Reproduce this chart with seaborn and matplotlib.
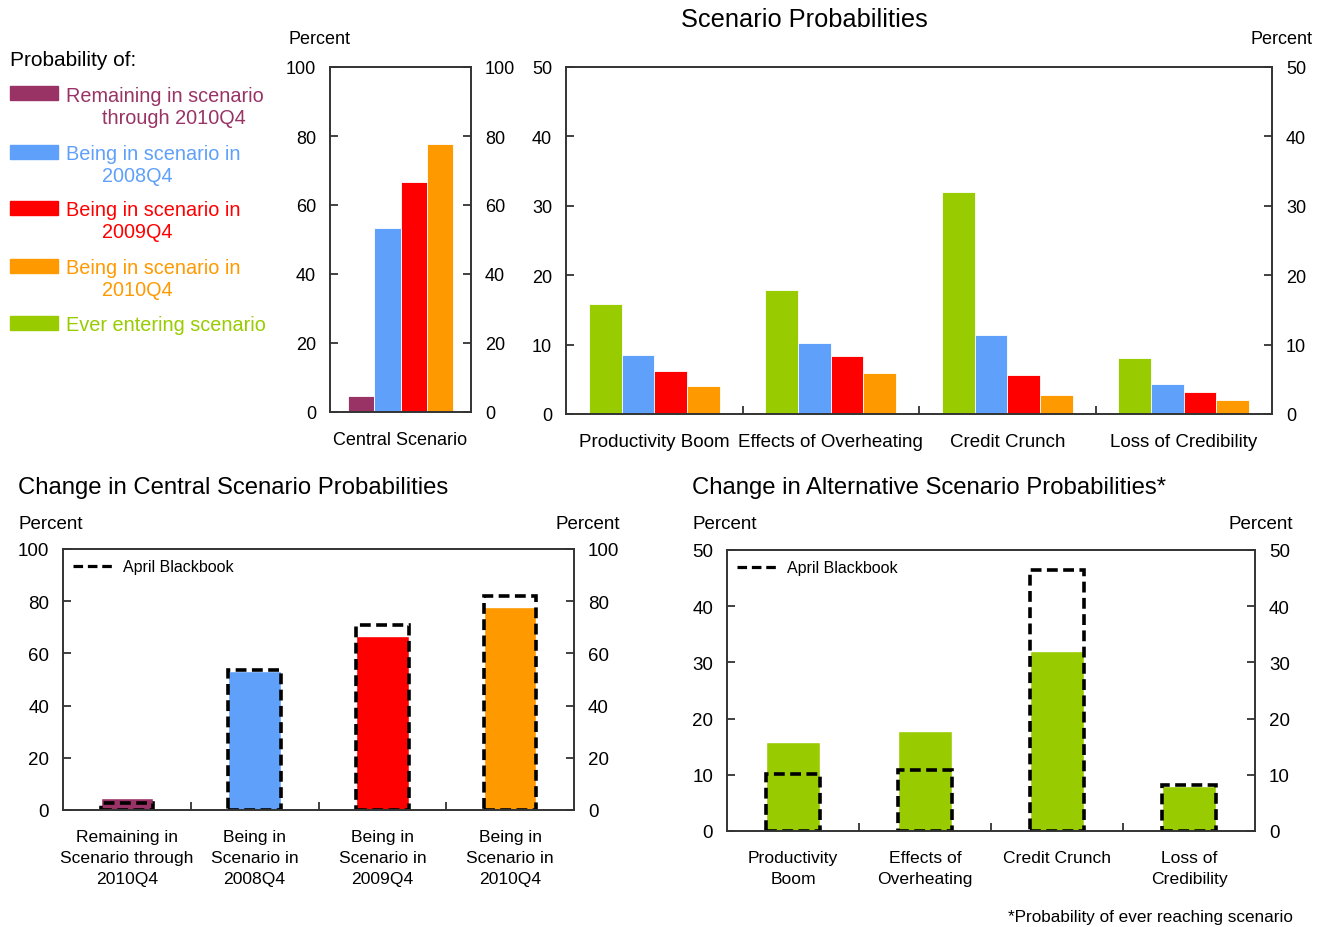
import matplotlib
matplotlib.use("Agg")
import matplotlib.pyplot as plt
from matplotlib import font_manager
from matplotlib.patches import Rectangle
from matplotlib.lines import Line2D
import seaborn as sns
import pandas as pd

# ---------------- data ----------------
central_series = ["Remaining in scenario through 2010Q4", "Being in scenario in 2008Q4",
                  "Being in scenario in 2009Q4", "Being in scenario in 2010Q4"]
central_values = [4.7, 53.2, 66.8, 77.8]
central_april = [2.7, 53.5, 71.0, 82.0]
central_cat_labels = ["Remaining in\nScenario through\n2010Q4", "Being in\nScenario in\n2008Q4",
                      "Being in\nScenario in\n2009Q4", "Being in\nScenario in\n2010Q4"]

alt_categories = ["Productivity Boom", "Effects of Overheating", "Credit Crunch", "Loss of Credibility"]
alt_cat_labels = ["Productivity\nBoom", "Effects of\nOverheating", "Credit Crunch", "Loss of\nCredibility"]
alt_series = ["Ever entering scenario", "Being in scenario in 2008Q4",
              "Being in scenario in 2009Q4", "Being in scenario in 2010Q4"]
alt_ever = [15.8, 17.8, 32.0, 8.0]
alt_2008 = [8.5, 10.2, 11.4, 4.3]
alt_2009 = [6.2, 8.3, 5.6, 3.1]
alt_2010 = [4.1, 5.9, 2.7, 2.0]
alt_april = [10.1, 10.9, 46.5, 8.2]

legend_labels = [("Remaining in scenario", "through 2010Q4"),
                 ("Being in scenario in", "2008Q4"),
                 ("Being in scenario in", "2009Q4"),
                 ("Being in scenario in", "2010Q4"),
                 ("Ever entering scenario", None)]

MAROON, BLUE, RED, ORANGE, GREEN = "#993366", "#5FA0FA", "#FF0000", "#FF9900", "#99CC00"
color_map = {"Remaining in scenario through 2010Q4": MAROON,
             "Being in scenario in 2008Q4": BLUE,
             "Being in scenario in 2009Q4": RED,
             "Being in scenario in 2010Q4": ORANGE,
             "Ever entering scenario": GREEN}
legend_colors = [MAROON, BLUE, RED, ORANGE, GREEN]

# ---------------- style ----------------
sns.set_style("white")
names = {f.name for f in font_manager.fontManager.ttflist}
REG = "Liberation Sans"
NARROW = "Liberation Sans Narrow" if "Liberation Sans Narrow" in names else "Liberation Sans"
NARROW_SCALE = 1.0 if NARROW != REG else 0.9
plt.rcParams["font.family"] = [REG, "DejaVu Sans"]
plt.rcParams["text.color"] = "black"
plt.rcParams["xtick.color"] = "black"
plt.rcParams["ytick.color"] = "black"

W, H = 1327, 928
fig = plt.figure(figsize=(W / 100, H / 100), dpi=100)


def ax_at(l, t, r, b):
    return fig.add_axes([l / W, 1 - b / H, (r - l) / W, (b - t) / H])


def ftext(x, y, s, **kw):
    kw.setdefault("va", "center")
    fig.text(x / W, 1 - y / H, s, **kw)


SPINE = "#333333"


def style_axes(ax, ymax, step, font, fsize, xb_ticks=None):
    for sp in ax.spines.values():
        sp.set_visible(True)
        sp.set_color(SPINE)
        sp.set_linewidth(1.4)
    ax.set_ylim(0, ymax)
    ax.set_yticks(range(0, ymax + 1, step))
    ax.tick_params(axis="y", direction="in", length=6, width=1.3, color=SPINE,
                   left=True, right=True, labelleft=True, labelright=True, pad=10)
    ax.tick_params(axis="x", length=0, pad=14)
    for lab in ax.get_yticklabels():
        lab.set_fontfamily(font)
        lab.set_fontsize(fsize)
    if xb_ticks is not None:
        ax.set_xticks(xb_ticks, minor=True)
        ax.tick_params(axis="x", which="minor", direction="in", length=6, width=1.3,
                       color=SPINE, bottom=True)
    ax.set_xlabel("")
    ax.set_ylabel("")


# ---------------- top-left: central scenario ----------------
ax1 = ax_at(330, 68, 471, 413)
df_c = pd.DataFrame({"cat": ["Central Scenario"] * 4, "series": central_series, "value": central_values})
sns.barplot(data=df_c, x="cat", y="value", hue="series", hue_order=central_series,
            palette=color_map, width=0.74, saturation=1, legend=False, ax=ax1,
            edgecolor="white", linewidth=0.6)
ax1.set_xlim(-0.5, 0.5)
style_axes(ax1, 100, 20, REG, 13)
ax1.set_xticks([0])
ax1.set_xticklabels(["Central Scenario"], fontsize=13, fontfamily=REG)

# ---------------- top-right: alternative scenarios ----------------
ax2 = ax_at(566, 68, 1272, 415)
df_a = pd.DataFrame({
    "cat": alt_categories * 4,
    "series": [s for s in alt_series for _ in alt_categories],
    "value": alt_ever + alt_2008 + alt_2009 + alt_2010,
})
sns.barplot(data=df_a, x="cat", y="value", hue="series", hue_order=alt_series, order=alt_categories,
            palette=color_map, width=0.74, saturation=1, legend=False, ax=ax2,
            edgecolor="white", linewidth=0.6)
ax2.set_xlim(-0.5, 3.5)
style_axes(ax2, 50, 10, REG, 13, xb_ticks=[0.5, 1.5, 2.5])
ax2.set_xticks(range(4))
ax2.set_xticklabels(alt_categories, fontsize=15 * NARROW_SCALE, fontfamily=NARROW)

# ---------------- bottom-left: change in central ----------------
DASH = (0, (3.0, 1.5))
LW = 2.6
ax3 = ax_at(63, 550, 574, 811)
df_bl = pd.DataFrame({"cat": central_series, "value": central_values, "april": central_april})
sns.barplot(data=df_bl, x="cat", y="value", hue="cat", order=central_series,
            palette=color_map, width=0.41, saturation=1, legend=False, ax=ax3)
sns.barplot(data=df_bl, x="cat", y="april", order=central_series, fill=False, color="black",
            width=0.41, ax=ax3, linewidth=LW, linestyle=DASH)
ax3.set_xlim(-0.5, 3.5)
style_axes(ax3, 100, 20, NARROW, 15 * NARROW_SCALE, xb_ticks=[0.5, 1.5, 2.5])
ax3.set_xticks(range(4))
ax3.set_xticklabels(central_cat_labels, fontsize=14 * NARROW_SCALE, fontfamily=NARROW,
                    linespacing=1.5)

# ---------------- bottom-right: change in alternative ----------------
ax4 = ax_at(727, 551, 1255, 832)
df_br = pd.DataFrame({"cat": alt_categories, "value": alt_ever, "april": alt_april})
sns.barplot(data=df_br, x="cat", y="value", order=alt_categories, color=GREEN,
            width=0.41, saturation=1, ax=ax4)
sns.barplot(data=df_br, x="cat", y="april", order=alt_categories, fill=False, color="black",
            width=0.41, ax=ax4, linewidth=LW, linestyle=DASH)
ax4.set_xlim(-0.5, 3.5)
style_axes(ax4, 50, 10, NARROW, 15 * NARROW_SCALE, xb_ticks=[0.5, 1.5, 2.5])
ax4.set_xticks(range(4))
ax4.set_xticklabels(alt_cat_labels, fontsize=14 * NARROW_SCALE, fontfamily=NARROW,
                    linespacing=1.5)

for ax in (ax3, ax4):
    h = Line2D([], [], color="black", lw=2.3, linestyle=DASH)
    ax.legend([h], ["April Blackbook"], loc="upper left", frameon=False,
              handlelength=2.6, handletextpad=0.5, borderaxespad=0.25,
              prop={"family": NARROW, "size": 11.5})

# ---------------- texts ----------------
ftext(804, 20, "Scenario Probabilities", ha="center", fontsize=18.3)
ftext(18, 488, "Change in Central Scenario Probabilities", ha="left", fontsize=17.2)
ftext(692, 488, "Change in Alternative Scenario Probabilities*", ha="left", fontsize=17.2)

ftext(320, 39, "Percent", ha="center", fontsize=13)
ftext(1282, 39, "Percent", ha="center", fontsize=13)
ftext(18, 525, "Percent", ha="left", fontsize=13.5, fontfamily=NARROW)
ftext(620, 525, "Percent", ha="right", fontsize=13.5, fontfamily=NARROW)
ftext(692, 525, "Percent", ha="left", fontsize=13.5, fontfamily=NARROW)
ftext(1293, 525, "Percent", ha="right", fontsize=13.5, fontfamily=NARROW)
ftext(1293, 918, "*Probability of ever reaching scenario", ha="right", fontsize=12.3,
      fontfamily=NARROW)

# left legend
ftext(10, 61, "Probability of:", ha="left", fontsize=15)
box_tops = [87, 146, 202, 260, 317]
for (l1, l2), col, top in zip(legend_labels, legend_colors, box_tops):
    fig.patches.append(Rectangle((9.5 / W, 1 - (top + 14) / H), 48 / W, 14 / H,
                                 transform=fig.transFigure, color=col, zorder=3))
    ftext(66, top + 9, l1, ha="left", fontsize=14.3, color=col)
    if l2:
        ftext(102, top + 31, l2, ha="left", fontsize=14.3, color=col)

fig.savefig("out.png", dpi=100)
